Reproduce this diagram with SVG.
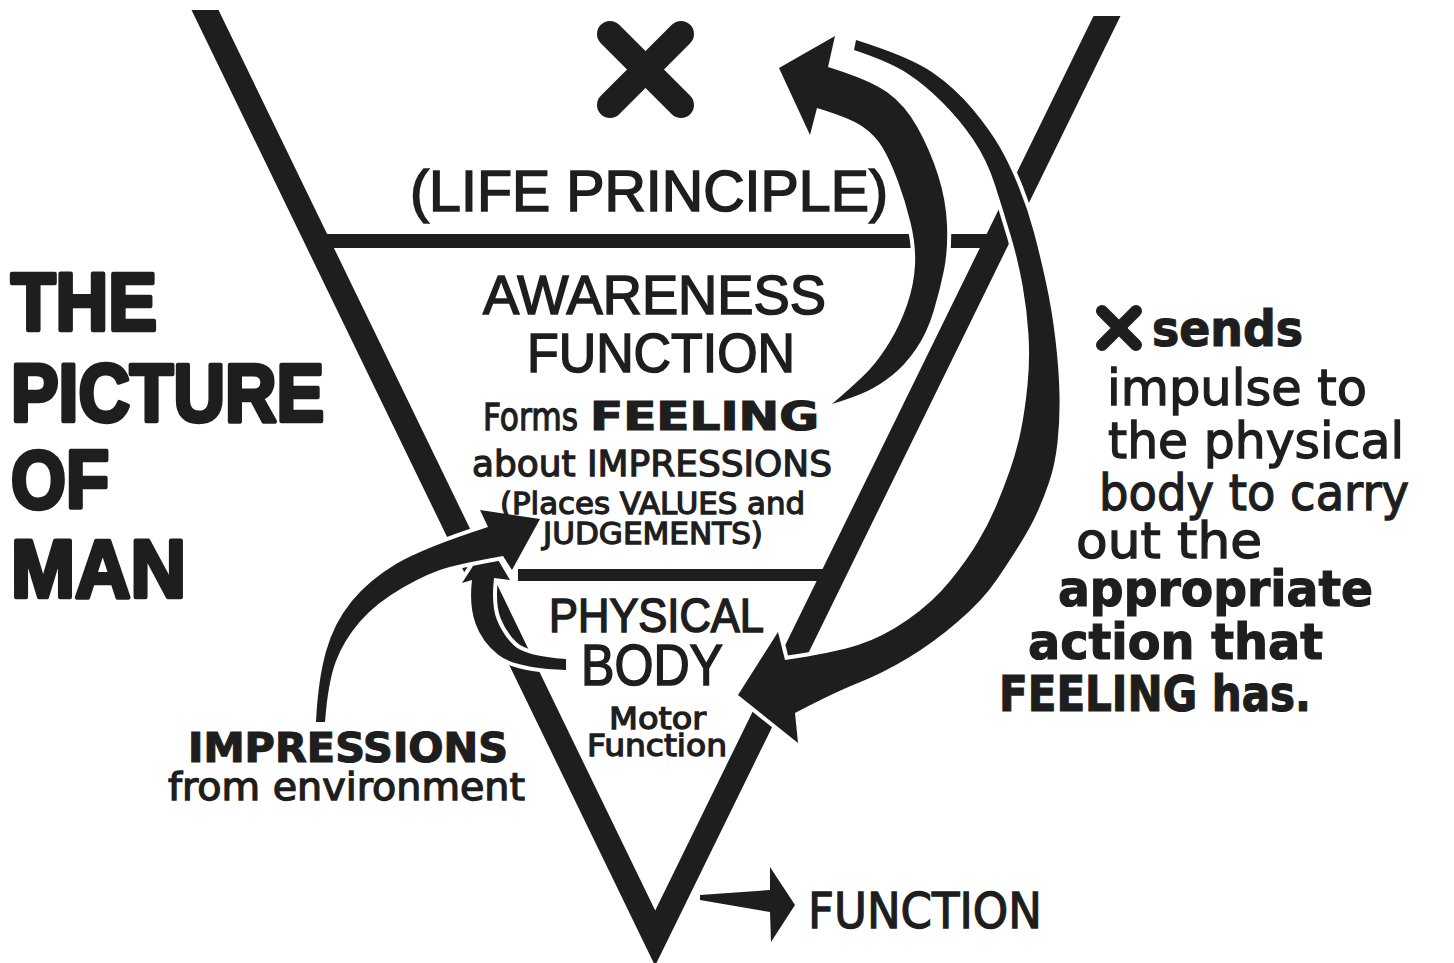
<svg xmlns="http://www.w3.org/2000/svg" width="1454" height="963" viewBox="0 0 1454 963">
<style>
  .ink { fill:#1e1e1e; }
  .halo { fill:#1e1e1e; stroke:#fff; stroke-width:8; stroke-linejoin:round; paint-order:stroke; }
  .h { font-family:"Liberation Sans", Arial, sans-serif; fill:#1e1e1e; stroke:#1e1e1e; stroke-width:1.6; }
  .vm { font-family:"DejaVu Sans", Verdana, sans-serif; fill:#1e1e1e; stroke:#1e1e1e; stroke-width:1.3; }
  .vb { font-family:"DejaVu Sans", Verdana, sans-serif; font-weight:bold; fill:#1e1e1e; stroke:#1e1e1e; stroke-width:1.2; }
  .title { font-family:"Liberation Sans", Arial, sans-serif; font-weight:bold; font-size:82px; fill:#1e1e1e; stroke:#1e1e1e; stroke-width:4.5; stroke-linejoin:round; }
  .xmark { stroke:#1e1e1e; stroke-linecap:round; fill:none; }
</style>
<rect width="1454" height="963" fill="#fff"/>

<g id="frame">
  <polygon class="ink" points="191.5,10 218.5,10 655.2,910.5 1093.5,16 1120.5,16 655.1,965.8"/>
  <rect class="ink" x="320" y="234" width="670" height="14"/>
  <rect class="ink" x="518" y="569" width="307" height="12"/>
</g>

<g id="connectors">
  <path id="arrow-impulse" class="halo" d="M856,40 Q910,57 932.5,72.5 Q955,88 972.5,109 Q990,130 1000,147.5 Q1010,165 1019,187.5 Q1028,210 1034,232.5 Q1040,255 1046,282.5 Q1052,310 1055.5,340 Q1059,370 1059.5,395 Q1060,420 1057.5,442.5 Q1055,465 1049,482.5 Q1043,500 1036.5,514 Q1030,528 1020,544 Q1010,560 996.5,580 Q983,600 958,621.5 Q933,643 908,658 Q883,673 858,683 Q833,693 795,713 L798,743 L738,695 L778,632 L785,660 Q833,653 858,645 Q883,637 908,619.5 Q933,602 950,581 Q967,560 977.5,542.5 Q988,525 995.5,507.5 Q1003,490 1010,470 Q1017,450 1021,430 Q1025,410 1027.5,385 Q1030,360 1028.5,335 Q1027,310 1022.5,285 Q1018,260 1010.5,235 Q1003,210 995,185 Q987,160 973.5,140 Q960,120 942.5,102.5 Q925,85 907.5,73.5 Q890,62 854,50 Z"/>
  <path id="arrow-feeling" class="halo" d="M832,404 Q855,397 867.5,391 Q880,385 892.5,375 Q905,365 916,349 Q927,333 933.5,311.5 Q940,290 944,270 Q948,250 947,225 Q946,200 938,175 Q930,150 917.5,127.5 Q905,105 887.5,92.5 Q870,80 828,67 L835,36 L779,68 L810,135 L817,108 Q850,118 862.5,126.5 Q875,135 882.5,147.5 Q890,160 897.5,180 Q905,200 910.5,222.5 Q916,245 915,265 Q914,285 907,305 Q900,325 890,341.5 Q880,358 870,369 Q860,380 832,404 Z"/>
  <path id="arrow-body" class="halo" d="M566,670 Q515,668 498.5,655 Q482,642 475.5,623.5 Q469,605 472,580 L462,583 L488,543 L510,580 L494,578 Q491,605 497,620 Q503,635 514,645.5 Q525,656 566,659 Z"/>
  <path id="arrow-impressions" class="halo" d="M316,722 Q318,680 326,651.5 Q334,623 351.5,601.5 Q369,580 396,564 Q423,548 488,527 L480,510 L540,519 L512,570 L503,556 Q469,562 449.5,567 Q430,572 403,587.5 Q376,603 360,621.5 Q344,640 336,661 Q328,682 325,722 Z"/>
  <polygon id="arrow-function" class="ink" points="700,895 770,890 770,867 795,905 771,942 770,912 700,900"/>
</g>

<g id="title">
  <text class="title" x="11" y="330" textLength="146" lengthAdjust="spacingAndGlyphs">THE</text>
  <text class="title" x="11" y="421" textLength="313" lengthAdjust="spacingAndGlyphs">PICTURE</text>
  <text class="title" x="11" y="508" textLength="98" lengthAdjust="spacingAndGlyphs">OF</text>
  <text class="title" x="11" y="597" textLength="175" lengthAdjust="spacingAndGlyphs">MAN</text>
</g>

<g id="life-principle">
  <line class="xmark" x1="610" y1="34" x2="681" y2="105" stroke-width="26"/>
  <line class="xmark" x1="681" y1="34" x2="610" y2="105" stroke-width="26"/>
  <text class="h" x="410" y="211" font-size="57" stroke-width="1.2" textLength="478" lengthAdjust="spacingAndGlyphs">(LIFE PRINCIPLE)</text>
</g>

<g id="awareness-function">
  <text class="h" x="483" y="314" font-size="56" textLength="343" lengthAdjust="spacingAndGlyphs">AWARENESS</text>
  <text class="h" x="527" y="372" font-size="56" textLength="268" lengthAdjust="spacingAndGlyphs">FUNCTION</text>
  <text class="vm" x="483" y="430" font-size="37" textLength="95" lengthAdjust="spacingAndGlyphs">Forms</text>
  <text class="vb" x="590" y="430" font-size="39" stroke-width="1.8" textLength="229" lengthAdjust="spacingAndGlyphs">FEELING</text>
  <text class="vm" x="472" y="476" font-size="36" textLength="360" lengthAdjust="spacingAndGlyphs">about IMPRESSIONS</text>
  <text class="vm" x="500" y="514" font-size="30" stroke-width="1.6" textLength="305" lengthAdjust="spacingAndGlyphs">(Places VALUES and</text>
  <text class="vm" x="543" y="544" font-size="30" stroke-width="1.6" textLength="220" lengthAdjust="spacingAndGlyphs">JUDGEMENTS)</text>
</g>

<g id="physical-body">
  <text class="h" x="549" y="632" font-size="48" textLength="215" lengthAdjust="spacingAndGlyphs">PHYSICAL</text>
  <text class="h" x="581" y="685" font-size="58" textLength="142" lengthAdjust="spacingAndGlyphs">BODY</text>
  <text class="vm" x="609" y="729" font-size="30" stroke-width="1.5" textLength="97" lengthAdjust="spacingAndGlyphs">Motor</text>
  <text class="vm" x="587" y="756" font-size="30" stroke-width="1.5" textLength="140" lengthAdjust="spacingAndGlyphs">Function</text>
</g>

<g id="impressions">
  <text class="vb" x="188" y="762" font-size="40" stroke-width="2.4" textLength="320" lengthAdjust="spacingAndGlyphs">IMPRESSIONS</text>
  <text class="vm" x="168" y="800" font-size="37" textLength="357" lengthAdjust="spacingAndGlyphs">from environment</text>
</g>

<g id="x-sends">
  <line class="xmark" x1="1102" y1="311" x2="1136" y2="345" stroke-width="12"/>
  <line class="xmark" x1="1136" y1="311" x2="1102" y2="345" stroke-width="12"/>
  <text class="vb" x="1152" y="346" font-size="49" stroke-width="1.6" textLength="151" lengthAdjust="spacingAndGlyphs">sends</text>
  <text class="vm" x="1107" y="405" font-size="49" textLength="260" lengthAdjust="spacingAndGlyphs">impulse to</text>
  <text class="vm" x="1108" y="458" font-size="49" textLength="296" lengthAdjust="spacingAndGlyphs">the physical</text>
  <text class="vm" x="1099" y="510" font-size="49" textLength="310" lengthAdjust="spacingAndGlyphs">body to carry</text>
  <text class="vm" x="1076" y="558" font-size="49" textLength="186" lengthAdjust="spacingAndGlyphs">out the</text>
  <text class="vb" x="1058" y="606" font-size="49" stroke-width="1.6" textLength="315" lengthAdjust="spacingAndGlyphs">appropriate</text>
  <text class="vb" x="1028" y="659" font-size="49" stroke-width="1.6" textLength="295" lengthAdjust="spacingAndGlyphs">action that</text>
  <text class="vb" x="999" y="711" font-size="49" stroke-width="1.8" textLength="312" lengthAdjust="spacingAndGlyphs">FEELING has.</text>
</g>

<g id="function-legend">
  <text class="vm" x="808" y="928" font-size="49" textLength="234" lengthAdjust="spacingAndGlyphs">FUNCTION</text>
</g>
</svg>
